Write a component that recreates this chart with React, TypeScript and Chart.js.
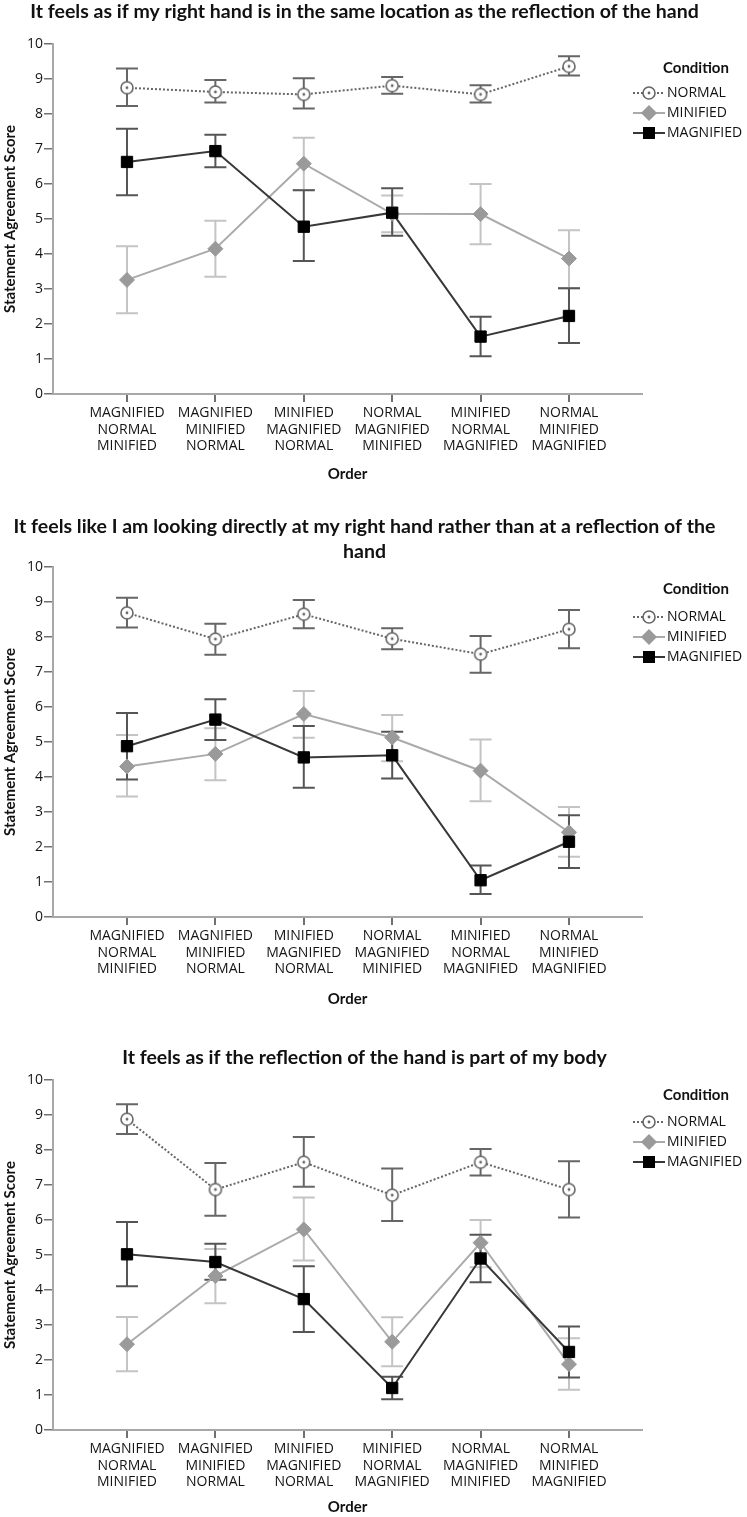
import React, { useEffect, useRef } from 'react';
import { Chart, registerables } from 'chart.js';

Chart.register(...registerables);

// ---------- data ----------
const seriesNames = ['NORMAL', 'MINIFIED', 'MAGNIFIED'];
const legendTitle = 'Condition';
const xAxisTitle = 'Order';
const yAxisTitle = 'Statement Agreement Score';
const yTicks = [0, 1, 2, 3, 4, 5, 6, 7, 8, 9, 10];

const categoriesA = [
  ['MAGNIFIED', 'NORMAL', 'MINIFIED'],
  ['MAGNIFIED', 'MINIFIED', 'NORMAL'],
  ['MINIFIED', 'MAGNIFIED', 'NORMAL'],
  ['NORMAL', 'MAGNIFIED', 'MINIFIED'],
  ['MINIFIED', 'NORMAL', 'MAGNIFIED'],
  ['NORMAL', 'MINIFIED', 'MAGNIFIED'],
];
const categoriesB = [
  ['MAGNIFIED', 'NORMAL', 'MINIFIED'],
  ['MAGNIFIED', 'MINIFIED', 'NORMAL'],
  ['MINIFIED', 'MAGNIFIED', 'NORMAL'],
  ['MINIFIED', 'NORMAL', 'MAGNIFIED'],
  ['NORMAL', 'MAGNIFIED', 'MINIFIED'],
  ['NORMAL', 'MINIFIED', 'MAGNIFIED'],
];

const title1 = 'It feels as if my right hand is in the same location as the reflection of the hand';
const normal1 = [8.75, 8.63, 8.56, 8.81, 8.56, 9.36];
const normal1Lo = [8.23, 8.33, 8.16, 8.58, 8.33, 9.1];
const normal1Hi = [9.3, 8.97, 9.02, 9.06, 8.82, 9.65];
const minified1 = [3.26, 4.15, 6.58, 5.15, 5.14, 3.87];
const minified1Lo = [2.31, 3.35, 5.83, 4.62, 4.28, 3.02];
const minified1Hi = [4.22, 4.95, 7.32, 5.67, 6.0, 4.68];
const magnified1 = [6.63, 6.94, 4.78, 5.18, 1.64, 2.23];
const magnified1Lo = [5.68, 6.48, 3.8, 4.52, 1.08, 1.46];
const magnified1Hi = [7.58, 7.41, 5.82, 5.88, 2.21, 3.02];

const title2 = ['It feels like I am looking directly at my right hand rather than at a reflection of the', 'hand'];
const normal2 = [8.69, 7.94, 8.65, 7.95, 7.51, 8.22];
const normal2Lo = [8.27, 7.49, 8.25, 7.65, 6.98, 7.68];
const normal2Hi = [9.12, 8.38, 9.06, 8.25, 8.03, 8.77];
const minified2 = [4.3, 4.66, 5.8, 5.13, 4.18, 2.42];
const minified2Lo = [3.44, 3.91, 5.12, 4.45, 3.31, 1.72];
const minified2Hi = [5.2, 5.39, 6.46, 5.77, 5.07, 3.14];
const magnified2 = [4.88, 5.64, 4.56, 4.62, 1.05, 2.15];
const magnified2Lo = [3.93, 5.06, 3.69, 3.96, 0.66, 1.4];
const magnified2Hi = [5.83, 6.22, 5.46, 5.29, 1.47, 2.91];

const title3 = 'It feels as if the reflection of the hand is part of my body';
const normal3 = [8.88, 6.87, 7.65, 6.71, 7.65, 6.87];
const normal3Lo = [8.46, 6.12, 6.95, 5.97, 7.27, 6.07];
const normal3Hi = [9.31, 7.63, 8.37, 7.47, 8.03, 7.68];
const minified3 = [2.45, 4.4, 5.73, 2.52, 5.35, 1.88];
const minified3Lo = [1.68, 3.62, 4.84, 1.82, 4.65, 1.15];
const minified3Hi = [3.23, 5.17, 6.64, 3.22, 6.0, 2.62];
const magnified3 = [5.02, 4.8, 3.74, 1.2, 4.9, 2.23];
const magnified3Lo = [4.11, 4.29, 2.8, 0.88, 4.22, 1.5];
const magnified3Hi = [5.94, 5.32, 4.68, 1.52, 5.58, 2.96];

// ---------- styles ----------
const BOLD = 'Lato';
const REG = "'Open Sans'";
const NORMAL_COLOR = '#666666';
const MIN_LINE = '#aaaaaa';
const MIN_FILL = '#9a9a9a';
const MIN_ERR = '#c4c4c4';
const MAG_LINE = '#383838';
const MAG_ERR = '#555555';
const AXIS = '#a8a8a8';
const TICK = '#707070';

function makeCircleMarker(): HTMLCanvasElement {
  const c = document.createElement('canvas');
  c.width = 16;
  c.height = 16;
  const g = c.getContext('2d')!;
  g.fillStyle = '#ffffff';
  g.strokeStyle = NORMAL_COLOR;
  g.lineWidth = 1.6;
  g.beginPath();
  g.arc(8, 8, 6, 0, Math.PI * 2);
  g.fill();
  g.stroke();
  g.fillStyle = NORMAL_COLOR;
  g.beginPath();
  g.arc(8, 8, 1.4, 0, Math.PI * 2);
  g.fill();
  return c;
}

const errorBarPlugin = {
  id: 'errorBars',
  beforeDatasetsDraw(chart: any) {
    const { ctx } = chart;
    const xs = chart.scales.x;
    const ys = chart.scales.y;
    chart.data.datasets.forEach((ds: any) => {
      if (!ds.errLo) return;
      ctx.save();
      ctx.strokeStyle = ds.errColor;
      ctx.lineWidth = 2;
      ds.data.forEach((pt: any, i: number) => {
        const x = xs.getPixelForValue(pt.x);
        const yl = ys.getPixelForValue(ds.errLo[i]);
        const yh = ys.getPixelForValue(ds.errHi[i]);
        ctx.beginPath();
        ctx.moveTo(x, yh);
        ctx.lineTo(x, yl);
        ctx.moveTo(x - 11, yh);
        ctx.lineTo(x + 11, yh);
        ctx.moveTo(x - 11, yl);
        ctx.lineTo(x + 11, yl);
        ctx.stroke();
      });
      ctx.restore();
    });
  },
};

const legendPlugin = {
  id: 'condLegend',
  afterDraw(chart: any, _args: any, opts: any) {
    const ctx = chart.ctx;
    const circle = opts.circle as HTMLCanvasElement;
    ctx.save();
    ctx.textBaseline = 'middle';
    ctx.textAlign = 'left';
    ctx.fillStyle = '#111111';
    ctx.font = `bold 15px ${BOLD}`;
    ctx.fillText(legendTitle, 663, opts.y);
    chart.data.datasets.forEach((ds: any, i: number) => {
      const y = opts.y + opts.gap + i * 20;
      ctx.save();
      ctx.strokeStyle = ds.borderColor;
      ctx.lineWidth = 2;
      ctx.setLineDash(ds.borderDash || []);
      ctx.beginPath();
      ctx.moveTo(633, y);
      ctx.lineTo(665, y);
      ctx.stroke();
      ctx.restore();
      const cx = 649;
      if (i === 0) {
        ctx.drawImage(circle, cx - 8, y - 8);
      } else if (i === 1) {
        ctx.fillStyle = MIN_FILL;
        ctx.beginPath();
        ctx.moveTo(cx - 8, y);
        ctx.lineTo(cx, y - 8);
        ctx.lineTo(cx + 8, y);
        ctx.lineTo(cx, y + 8);
        ctx.closePath();
        ctx.fill();
      } else {
        ctx.fillStyle = '#000000';
        ctx.fillRect(cx - 6, y - 6, 12, 12);
      }
      ctx.fillStyle = '#111111';
      ctx.font = `14px ${REG}`;
      ctx.fillText(ds.label, 667, y);
    });
    ctx.restore();
  },
};

type Layout = {
  top: number;
  height: number;
  titlePadTop: number;
  titlePadBottom: number;
  titleLH: string;
  xHeight: number;
  orderPad: number;
  legendY: number;
  legendGap: number;
};

type PanelProps = {
  title: string | string[];
  cats: string[][];
  normal: number[]; normalLo: number[]; normalHi: number[];
  minified: number[]; minifiedLo: number[]; minifiedHi: number[];
  magnified: number[]; magnifiedLo: number[]; magnifiedHi: number[];
  lay: Layout;
};

function ChartPanel(p: PanelProps) {
  const ref = useRef<HTMLCanvasElement>(null);
  useEffect(() => {
    const circle = makeCircleMarker();
    const toPts = (vals: number[]) => vals.map((v, i) => ({ x: i, y: v }));
    const tickFont = { family: REG, size: 14 };
    const chart = new Chart(ref.current!, {
      type: 'line',
      data: {
        datasets: [
          {
            label: seriesNames[0],
            data: toPts(p.normal),
            errLo: p.normalLo, errHi: p.normalHi, errColor: NORMAL_COLOR,
            borderColor: NORMAL_COLOR, borderWidth: 2, borderDash: [2, 2],
            pointStyle: circle, pointRadius: 6, order: 1,
          } as any,
          {
            label: seriesNames[1],
            data: toPts(p.minified),
            errLo: p.minifiedLo, errHi: p.minifiedHi, errColor: MIN_ERR,
            borderColor: MIN_LINE, borderWidth: 2,
            pointStyle: 'rectRot', pointRadius: 7.5,
            pointBackgroundColor: MIN_FILL, pointBorderColor: MIN_FILL, pointBorderWidth: 1, order: 2,
          } as any,
          {
            label: seriesNames[2],
            data: toPts(p.magnified),
            errLo: p.magnifiedLo, errHi: p.magnifiedHi, errColor: MAG_ERR,
            borderColor: MAG_LINE, borderWidth: 2,
            pointStyle: 'rect', pointRadius: 8,
            pointBackgroundColor: '#000000', pointBorderColor: '#000000', pointBorderWidth: 1, order: 0,
          } as any,
        ],
      },
      options: {
        responsive: false,
        animation: false,
        events: [],
        layout: { padding: { left: 0, right: 18, top: 0, bottom: 0 } },
        plugins: {
          legend: { display: false },
          tooltip: { enabled: false },
          title: {
            display: true,
            text: p.title,
            color: '#111111',
            font: { family: BOLD, weight: 'bold', size: 19.5, lineHeight: p.lay.titleLH },
            padding: { top: p.lay.titlePadTop, bottom: p.lay.titlePadBottom },
          },
          condLegend: { y: p.lay.legendY, gap: p.lay.legendGap, circle },
        } as any,
        scales: {
          x: {
            type: 'linear',
            min: -0.837,
            max: 5.826,
            afterBuildTicks: (s: any) => {
              s.ticks = p.cats.map((_, i) => ({ value: i }));
            },
            ticks: {
              autoSkip: false,
              maxRotation: 0,
              minRotation: 0,
              padding: 3,
              color: '#151515',
              font: { ...tickFont, lineHeight: '16.5px' },
              callback: (v: any) => p.cats[Math.round(Number(v))],
            },
            grid: { display: true, drawOnChartArea: false, drawTicks: true, tickLength: 8, color: TICK, lineWidth: 2 },
            border: { display: true, color: AXIS, width: 2 },
            title: {
              display: true,
              text: xAxisTitle,
              color: '#111111',
              font: { family: BOLD, weight: 'bold', size: 15 },
              padding: { top: 0, bottom: p.lay.orderPad },
            },
            afterFit: (s: any) => {
              s.height = p.lay.xHeight;
            },
          } as any,
          y: {
            type: 'linear',
            min: yTicks[0],
            max: yTicks[yTicks.length - 1],
            afterBuildTicks: (s: any) => {
              s.ticks = yTicks.map((v) => ({ value: v }));
            },
            ticks: { padding: 1, color: '#151515', font: tickFont },
            grid: { display: true, drawOnChartArea: false, drawTicks: true, tickLength: 9, color: TICK, lineWidth: 1.5 },
            border: { display: true, color: AXIS, width: 2 },
            title: {
              display: true,
              text: yAxisTitle,
              color: '#111111',
              font: { family: BOLD, weight: 'bold', size: 15 },
              padding: { top: 1, bottom: 0 },
            },
            afterFit: (s: any) => {
              s.width = 53;
            },
          } as any,
          yR: {
            type: 'linear',
            position: 'right',
            display: true,
            ticks: { display: false },
            grid: { display: false, drawTicks: false },
            border: { display: false },
            afterFit: (s: any) => {
              s.width = 87;
            },
          } as any,
        },
      },
      plugins: [errorBarPlugin, legendPlugin],
    });
    return () => chart.destroy();
  }, []);
  return (
    <div style={{ position: 'absolute', left: 0, top: p.lay.top, width: 747, height: p.lay.height }}>
      <canvas ref={ref} width={747} height={p.lay.height} style={{ display: 'block', width: 747, height: p.lay.height }} />
    </div>
  );
}

export default function App() {
  return (
    <div style={{ position: 'absolute', left: 0, top: 0, width: 747, height: 1517, background: '#ffffff', overflow: 'hidden' }}>
      <ChartPanel
        title={title1}
        cats={categoriesA}
        normal={normal1} normalLo={normal1Lo} normalHi={normal1Hi}
        minified={minified1} minifiedLo={minified1Lo} minifiedHi={minified1Hi}
        magnified={magnified1} magnifiedLo={magnified1Lo} magnifiedHi={magnified1Hi}
        lay={{ top: 0, height: 500, titlePadTop: 0, titlePadBottom: 20.6, titleLH: '23.4px', xHeight: 106, orderPad: 16.6, legendY: 68, legendGap: 25 }}
      />
      <ChartPanel
        title={title2}
        cats={categoriesA}
        normal={normal2} normalLo={normal2Lo} normalHi={normal2Hi}
        minified={minified2} minifiedLo={minified2Lo} minifiedHi={minified2Hi}
        magnified={magnified2} magnifiedLo={magnified2Lo} magnifiedHi={magnified2Hi}
        lay={{ top: 505, height: 515, titlePadTop: 9.5, titlePadBottom: 2.5, titleLH: '25px', xHeight: 103, orderPad: 11.6, legendY: 84, legendGap: 28 }}
      />
      <ChartPanel
        title={title3}
        cats={categoriesB}
        normal={normal3} normalLo={normal3Lo} normalHi={normal3Hi}
        minified={minified3} minifiedLo={minified3Lo} minifiedHi={minified3Hi}
        magnified={magnified3} magnifiedLo={magnified3Lo} magnifiedHi={magnified3Hi}
        lay={{ top: 1030, height: 487, titlePadTop: 16.3, titlePadBottom: 10.3, titleLH: '23.4px', xHeight: 87, orderPad: 0.6, legendY: 65, legendGap: 27 }}
      />
    </div>
  );
}
